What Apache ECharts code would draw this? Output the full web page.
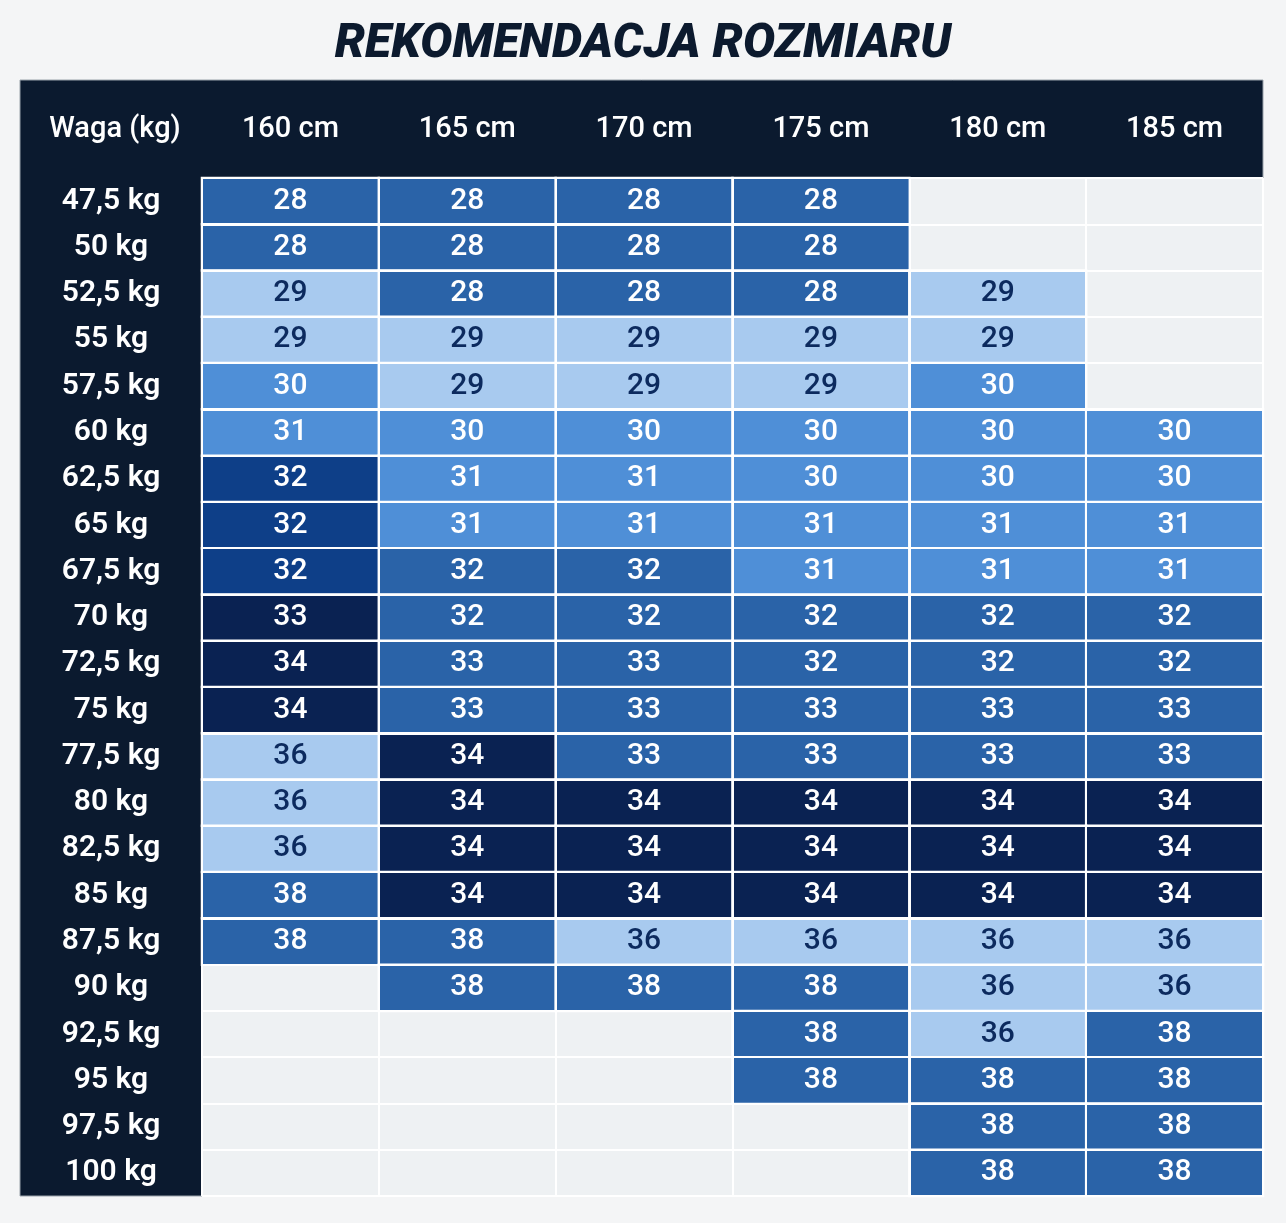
<!DOCTYPE html>
<html>
<head>
<meta charset="utf-8">
<script src="https://cdn.jsdelivr.net/npm/echarts@6/dist/echarts.min.js"></script>
<style>
html,body{margin:0;padding:0;background:#f4f5f6;}
#chart{width:1286px;height:1223px;}
</style>
</head>
<body>
<div id="chart"></div>
<script>
// ---- data ----
const heights = ['160 cm', '165 cm', '170 cm', '175 cm', '180 cm', '185 cm'];
const weights = ['47,5 kg', '50 kg', '52,5 kg', '55 kg', '57,5 kg', '60 kg', '62,5 kg', '65 kg', '67,5 kg', '70 kg', '72,5 kg',
  '75 kg', '77,5 kg', '80 kg', '82,5 kg', '85 kg', '87,5 kg', '90 kg', '92,5 kg', '95 kg', '97,5 kg', '100 kg'];
// recommended size per weight row, per height column (null = no recommendation)
const sizes = [
  [28, 28, 28, 28, null, null],
  [28, 28, 28, 28, null, null],
  [29, 28, 28, 28, 29, null],
  [29, 29, 29, 29, 29, null],
  [30, 29, 29, 29, 30, null],
  [31, 30, 30, 30, 30, 30],
  [32, 31, 31, 30, 30, 30],
  [32, 31, 31, 31, 31, 31],
  [32, 32, 32, 31, 31, 31],
  [33, 32, 32, 32, 32, 32],
  [34, 33, 33, 32, 32, 32],
  [34, 33, 33, 33, 33, 33],
  [36, 34, 33, 33, 33, 33],
  [36, 34, 34, 34, 34, 34],
  [36, 34, 34, 34, 34, 34],
  [38, 34, 34, 34, 34, 34],
  [38, 38, 36, 36, 36, 36],
  [null, 38, 38, 38, 36, 36],
  [null, null, null, 38, 36, 38],
  [null, null, null, 38, 38, 38],
  [null, null, null, null, 38, 38],
  [null, null, null, null, 38, 38]
];
// shade band of each cell as seen in the picture (0 lightest .. 4 darkest)
const shadeBands = [
  [2, 2, 2, 2, null, null],
  [2, 2, 2, 2, null, null],
  [0, 2, 2, 2, 0, null],
  [0, 0, 0, 0, 0, null],
  [1, 0, 0, 0, 1, null],
  [1, 1, 1, 1, 1, 1],
  [3, 1, 1, 1, 1, 1],
  [3, 1, 1, 1, 1, 1],
  [3, 2, 2, 1, 1, 1],
  [4, 2, 2, 2, 2, 2],
  [4, 2, 2, 2, 2, 2],
  [4, 2, 2, 2, 2, 2],
  [0, 4, 2, 2, 2, 2],
  [0, 4, 4, 4, 4, 4],
  [0, 4, 4, 4, 4, 4],
  [2, 4, 4, 4, 4, 4],
  [2, 2, 0, 0, 0, 0],
  [null, 2, 2, 2, 0, 0],
  [null, null, null, 2, 0, 2],
  [null, null, null, 2, 2, 2],
  [null, null, null, null, 2, 2],
  [null, null, null, null, 2, 2]
];
const titleText = 'REKOMENDACJA ROZMIARU';
const cornerLabel = 'Waga (kg)';

// ---- styling ----
const bandColors = ['#a8caef', '#4f8fd7', '#2a63a8', '#0e3f88', '#0a2252'];
const bandText = ['#0c2a5e', '#ffffff', '#ffffff', '#ffffff', '#ffffff'];
const navy = '#0b1a2f';
const FONT = 'Roboto, "Noto Sans", sans-serif';

const cells = [];
sizes.forEach((row, yi) => {
  row.forEach((v, xi) => {
    if (v === null) return;
    const b = shadeBands[yi][xi];
    cells.push({
      value: [xi, yi, v],
      itemStyle: { color: bandColors[b] },
      label: { color: bandText[b] }
    });
  });
});

const chart = echarts.init(document.getElementById('chart'), null, { renderer: 'canvas' });
chart.setOption({
  backgroundColor: '#f4f5f6',
  animation: false,
  title: {
    text: titleText,
    left: 'center',
    top: 16,
    textStyle: {
      fontFamily: FONT,
      fontSize: 48,
      fontWeight: 900,
      fontStyle: 'italic',
      color: '#0c1a2e'
    }
  },
  graphic: [
    { type: 'rect', z: -10, shape: { x: 20, y: 80, width: 1243, height: 98 }, style: { fill: navy } },
    { type: 'rect', z: -10, shape: { x: 20, y: 178, width: 182, height: 1018 }, style: { fill: navy } },
    { type: 'rect', z: -10, shape: { x: 20, y: 80, width: 1243, height: 1116 }, style: { fill: 'none', stroke: '#9aa2ab', lineWidth: 1 } },
    {
      type: 'text', z: 10, x: 115, y: 130,
      style: {
        text: cornerLabel, fill: '#ffffff', fontSize: 29, fontWeight: 500, fontFamily: FONT,
        align: 'center', verticalAlign: 'middle'
      }
    }
  ],
  grid: {
    left: 202, top: 178, width: 1061, height: 1018,
    show: true, backgroundColor: '#eef1f3', borderWidth: 0
  },
  xAxis: {
    type: 'category',
    data: heights,
    position: 'top',
    z: 5,
    axisLine: { show: false },
    axisTick: { show: false },
    splitLine: { show: true, lineStyle: { color: '#ffffff', width: 2 } },
    axisLabel: {
      color: '#ffffff', fontSize: 29, fontWeight: 500, fontFamily: FONT,
      margin: 48, verticalAlign: 'middle'
    }
  },
  yAxis: {
    type: 'category',
    data: weights,
    inverse: true,
    z: 5,
    axisLine: { show: false },
    axisTick: { show: false },
    splitLine: { show: true, lineStyle: { color: '#ffffff', width: 2 } },
    axisLabel: {
      color: '#ffffff', fontSize: 30, fontWeight: 600, fontFamily: FONT,
      margin: 91, align: 'center'
    }
  },
  series: [{
    type: 'heatmap',
    data: cells,
    itemStyle: { borderColor: '#ffffff', borderWidth: 2 },
    label: {
      show: true,
      fontSize: 30,
      fontWeight: 500,
      fontFamily: FONT,
      formatter: p => String(p.value[2])
    },
    emphasis: { disabled: true }
  }]
});
</script>
</body>
</html>
